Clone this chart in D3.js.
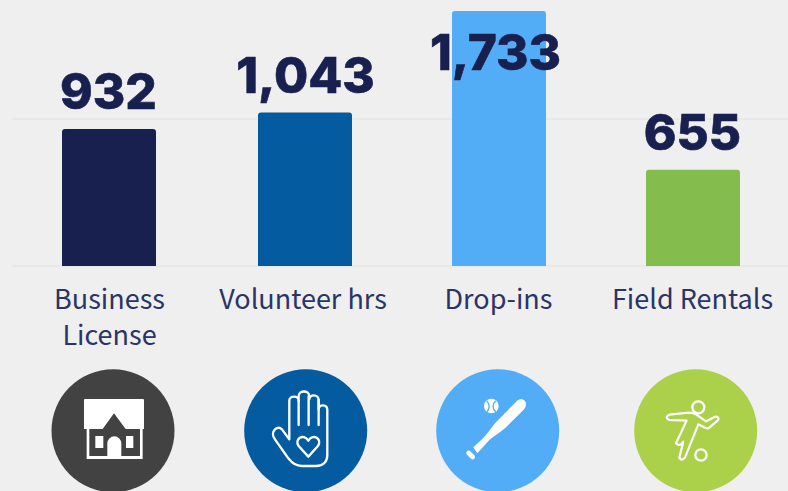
<!DOCTYPE html>
<html><head><meta charset="utf-8">
<script src="https://cdn.jsdelivr.net/npm/d3@7/dist/d3.min.js"></script>
<style>html,body{margin:0;padding:0;background:#efefef;overflow:hidden}svg{display:block}</style>
</head><body><svg id="c" width="788" height="491"></svg>
<script>
const categories=["Business License","Volunteer hrs","Drop-ins","Field Rentals"];
const labelLines=[["Business","License"],["Volunteer hrs"],["Drop-ins"],["Field Rentals"]];
const values=[932,1043,1733,655];
const valueLabels=["932","1,043","1,733","655"];
const barColors=["#182050","#045ba0","#52adf6","#84bc4e"];
const circleColors=["#424242","#045ba0","#52adf6","#abd14a"];
const gridTicks=[0,1000];
const svg=d3.select("#c");
const bw=94, minLabelY=69.5;
const barX=d3.scaleOrdinal(categories,[109,305,499,693]);
const textX=d3.scaleOrdinal(categories,[109.5,303,498.5,692.5]);
const valueX=d3.scaleOrdinal(categories,[108.5,305.5,495.5,692.5]);
const iconX=d3.scaleOrdinal(categories,[113,305.7,497.7,695.7]);
const y=d3.scaleLinear().domain([0,1000]).range([266,118.9]);
svg.append("g").selectAll("line").data(gridTicks).join("line")
 .attr("x1",12).attr("x2",788).attr("y1",d=>y(d)).attr("y2",d=>y(d))
 .attr("stroke","#e6e6e6").attr("stroke-width",1.5);
const bars=svg.append("g"), labels=svg.append("g");
categories.forEach((c,i)=>{
 const top=y(values[i]),bot=y(0),l=barX(c)-bw/2,r=3;
 const p=d3.path();
 p.moveTo(l,bot);p.lineTo(l,top+r);p.quadraticCurveTo(l,top,l+r,top);
 p.lineTo(l+bw-r,top);p.quadraticCurveTo(l+bw,top,l+bw,top+r);p.lineTo(l+bw,bot);p.closePath();
 bars.append("path").attr("d",p.toString()).attr("fill",barColors[i]);
 labels.append("text").attr("x",valueX(c)).attr("y",Math.max(top-20,minLabelY)).attr("text-anchor","middle")
  .attr("font-family","Inter,sans-serif").attr("font-weight",800).attr("font-size",49.5)
  .attr("fill","#182050").attr("stroke","#182050").attr("stroke-width",0.6).text(valueLabels[i]);
 const t=svg.append("text").attr("text-anchor","middle")
  .attr("font-family","'Noto Sans CJK SC','Noto Sans',sans-serif").attr("font-size",27).attr("fill","#2a3465");
 labelLines[i].forEach((s,j)=>t.append("tspan").attr("x",textX(c)).attr("y",309+j*36).text(s));
 svg.append("circle").attr("cx",iconX(c)).attr("cy",430.7).attr("r",61.5).attr("fill",circleColors[i]);
});
const sty=(s,o)=>{Object.entries(o).forEach(([k,v])=>s.attr(k,v));return s;};
const ws=w=>({fill:"none",stroke:"#fff","stroke-width":w,"stroke-linejoin":"round","stroke-linecap":"round"});
const h=svg.append("g").attr("transform","translate(30,360) scale(0.3333)");
h.append("path").attr("fill","#fff").attr("d","M162 120Q162 117 165 117H339Q342 117 342 120V207H338V297H170V207H162Z");
h.append("path").attr("fill","#424242").attr("d","M178 207H218L252 160L287 207H330V288H274V250A21 21 0 0 0 232 250V288H178Z");
h.append("path").attr("fill","#fff").attr("d","M196 228H220V264H196ZM288 228H310V264H288Z");
const hd=svg.append("g").attr("transform","translate(30,360) scale(0.3333)");
sty(hd.append("path").attr("d","M735 208C742 202 750 202 756 208L778 238V122C778 106 806 106 806 122V108C806 90 838 90 838 108V118C838 102 866 102 866 120V148C866 132 892 132 892 150V285C892 305 880 318 858 318H815C795 318 785 308 775 295L735 238C727 228 727 216 735 208Z"),ws(7));
sty(hd.append("path").attr("d","M806 122V195M836 108V195M866 120V195"),ws(7));
sty(hd.append("path").attr("d","M835 290L806 258C792 238 820 218 835 242C850 218 878 238 864 258Z"),ws(7));
const b=svg.append("g").attr("transform","translate(420,360) scale(0.3333)");
b.append("path").attr("fill","#fff").attr("d","M160 262L186 238C200 225 210 208 225 190L290 124C300 113 318 118 318 133C318 142 313 148 308 152L255 205C240 218 222 228 208 240L172 280Z");
sty(b.append("path").attr("d","M146 279L158 291"),{stroke:"#fff","stroke-width":14,"stroke-linecap":"round"});
b.append("circle").attr("cx",214).attr("cy",138).attr("r",22).attr("fill","#fff");
sty(b.append("path").attr("d","M200 122C210 132 210 146 200 156M228 122C216 132 216 146 228 156"),{fill:"none",stroke:"#52adf6","stroke-width":4});
const pl=svg.append("g").attr("transform","translate(420,360) scale(0.3333)");
sty(pl.append("circle").attr("cx",835).attr("cy",142).attr("r",18),ws(7));
sty(pl.append("circle").attr("cx",843).attr("cy",285).attr("r",17),ws(7));
sty(pl.append("path").attr("d","M748 164L808 158Q820 158 828 163L858 184L886 170Q898 170 895 180L868 203Q862 207 855 203L835 193L795 293Q785 305 778 293L790 245Q780 262 768 250L800 182L748 180Q732 172 748 164Z"),ws(6.5));
</script></body></html>
